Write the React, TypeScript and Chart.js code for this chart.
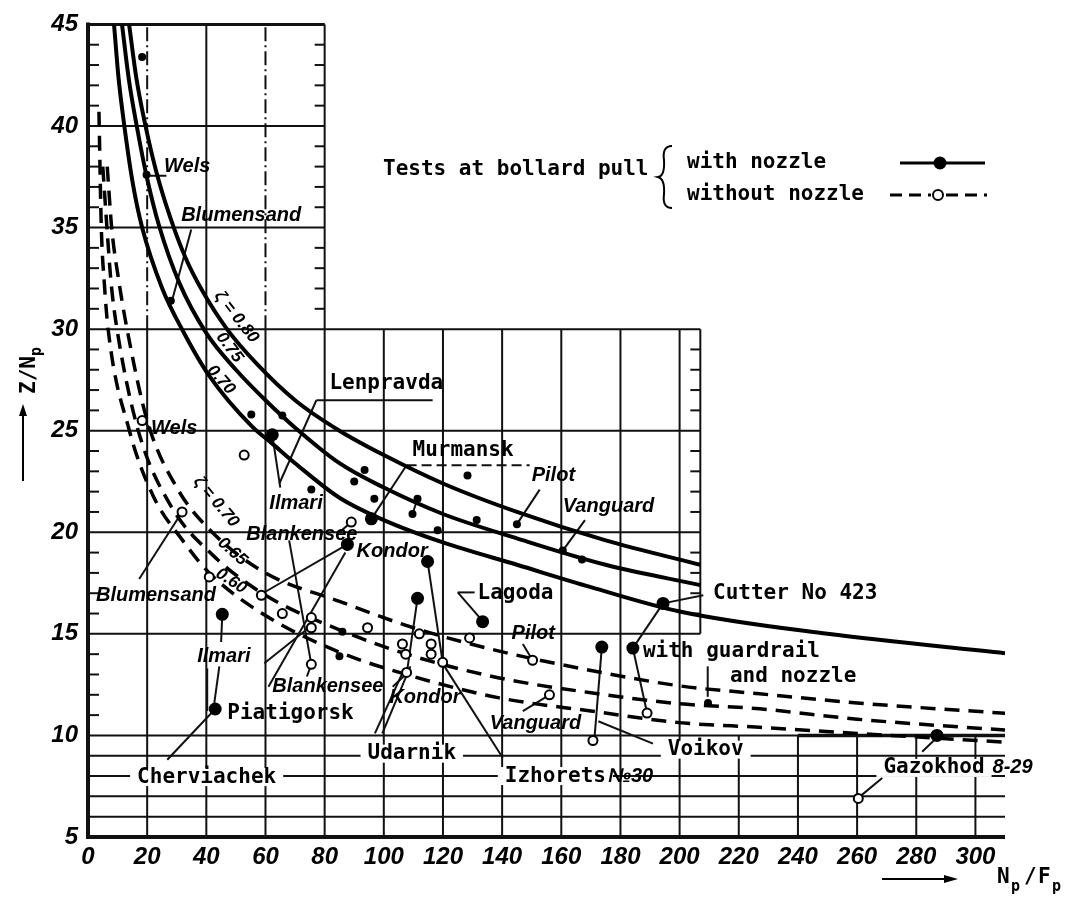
import React, { useEffect, useRef } from "react";
import { Chart, registerables } from "chart.js";

Chart.register(...registerables);

// ---------- axes ----------
const X_TICKS = [0, 20, 40, 60, 80, 100, 120, 140, 160, 180, 200, 220, 240, 260, 280, 300];
const Y_TICKS = [5, 10, 15, 20, 25, 30, 35, 40, 45];

// ---------- curves ----------
const SOLID_080_X = [13.9, 16.3, 19.3, 23, 27.8, 33, 38.6, 47, 57, 70, 85, 100, 120, 145, 175, 207];
const SOLID_080_Y = [45, 42.4, 40.1, 37.8, 35.5, 33.5, 31.9, 30.0, 28.3, 26.5, 25.0, 23.8, 22.4, 21.0, 19.6, 18.4];
const SOLID_075_X = [11.5, 13.8, 16.6, 20, 24, 30.8, 40, 50, 60, 70.4, 85, 100, 120, 145, 175, 207];
const SOLID_075_Y = [45, 42.3, 39.9, 37.4, 35.1, 32.3, 29.8, 28.0, 26.5, 25.1, 23.4, 22.2, 20.9, 19.7, 18.4, 17.4];
const SOLID_070_X = [8.8, 10.3, 12.2, 15, 18.3, 25.1, 32.5, 41, 55.5, 62, 70, 85, 100, 120, 145, 170, 200, 250, 310];
const SOLID_070_Y = [45, 42.4, 40.1, 37.3, 35, 32.0, 29.8, 27.7, 25.2, 24.4, 23.4, 21.7, 20.6, 19.5, 18.4, 17.3, 16.1, 15.0, 14.05];

const DASH_070_X = [6.5, 8, 10.5, 13.2, 20, 30, 42, 60, 85, 110, 139, 170, 200, 227, 260, 312];
const DASH_070_Y = [38, 35, 32.3, 30, 25.5, 22.2, 20.0, 18.0, 16.6, 15.3, 14.15, 13.2, 12.44, 12.05, 11.6, 11.07];
const DASH_065_X = [5, 6.4, 7.8, 9.8, 17, 28, 42, 60, 85, 110, 139, 170, 200, 227, 260, 312];
const DASH_065_Y = [38, 35, 32.3, 30, 25, 21.3, 18.9, 16.9, 15.2, 13.9, 12.83, 12.1, 11.56, 11.31, 10.8, 10.24];
const DASH_060_X = [3.7, 4.5, 5.5, 6.8, 14, 22, 32, 41, 60, 85, 110, 139, 170, 200, 227, 260, 312];
const DASH_060_Y = [40.7, 35, 32.3, 30, 25, 21.8, 19.6, 18.0, 15.9, 14.1, 12.9, 11.85, 11.2, 10.63, 10.4, 10.1, 9.65];

// ---------- test points ----------
const WITH_NOZZLE_BIG: [number, number][] = [
  [62.3, 24.8], [95.8, 20.66], [87.7, 19.4], [114.8, 18.56], [111.4, 16.75], [133.4, 15.6],
  [45.4, 15.96], [43.0, 11.3], [194.4, 16.5], [173.7, 14.35], [184.2, 14.3], [287.0, 10.0],
];
const WITH_NOZZLE_SMALL: [number, number][] = [
  [18.3, 43.4], [19.8, 37.6], [28.0, 31.4], [55.2, 25.8], [65.7, 25.75], [75.5, 22.1],
  [93.5, 23.06], [90.0, 22.5], [96.8, 21.65], [111.4, 21.65], [109.7, 20.9], [128.3, 22.8],
  [131.4, 20.6], [118.2, 20.1], [145.0, 20.4], [160.5, 19.1], [167.0, 18.66], [85.0, 13.9],
  [86.0, 15.1], [209.6, 11.6],
];
const WITHOUT_NOZZLE: [number, number][] = [
  [18.3, 25.5], [52.8, 23.8], [31.8, 21.0], [41.0, 17.8], [58.6, 16.9], [65.7, 16.0],
  [75.5, 15.8], [75.5, 15.3], [75.5, 13.5], [89.0, 20.5], [94.5, 15.3], [106.3, 14.5],
  [107.4, 14.0], [107.7, 13.1], [112.0, 15.0], [116.0, 14.5], [116.0, 14.0], [119.9, 13.6],
  [129.0, 14.8], [150.3, 13.7], [156.0, 12.0], [170.7, 9.75], [189.0, 11.1], [260.4, 6.9],
];

// ---------- annotations (data units) ----------
const TYPED_LABELS: { t: string; x: number; y: number; bg?: boolean }[] = [
  { t: "Lenpravda", x: 81.6, y: 27.3 },
  { t: "Murmansk", x: 109.7, y: 24.0 },
  { t: "Lagoda", x: 131.7, y: 17.0 },
  { t: "Cutter No 423", x: 211.3, y: 17.0 },
  { t: "with guardrail", x: 187.6, y: 14.15 },
  { t: "and nozzle", x: 217.0, y: 12.9 },
  { t: "Piatigorsk", x: 47.1, y: 11.1 },
  { t: "Udarnik", x: 94.5, y: 9.1, bg: true },
  { t: "Cherviachek", x: 16.6, y: 7.95, bg: true },
  { t: "Izhorets", x: 140.9, y: 8.0, bg: true },
  { t: "Voikov", x: 196.0, y: 9.3, bg: true },
  { t: "Gazokhod", x: 268.9, y: 8.4, bg: true },
];
const HAND_LABELS: { t: string; x: number; y: number }[] = [
  { t: "Wels", x: 25.7, y: 38.0 },
  { t: "Blumensand", x: 31.5, y: 35.6 },
  { t: "Wels", x: 21.3, y: 25.1 },
  { t: "Blumensand", x: 2.7, y: 16.9 },
  { t: "Ilmari", x: 61.3, y: 21.4 },
  { t: "Blankensee", x: 53.5, y: 19.9 },
  { t: "Kondor", x: 90.8, y: 19.05 },
  { t: "Ilmari", x: 36.9, y: 13.9 },
  { t: "Blankensee", x: 62.3, y: 12.4 },
  { t: "Kondor", x: 101.9, y: 11.85 },
  { t: "Pilot", x: 150.0, y: 22.8 },
  { t: "Vanguard", x: 160.5, y: 21.25 },
  { t: "Pilot", x: 143.2, y: 15.0 },
  { t: "Vanguard", x: 135.8, y: 10.6 },
  { t: "№30", x: 175.8, y: 8.0 },
  { t: "8-29", x: 305.8, y: 8.4 },
];
const ZETA_LABELS: { t: string; x: number; y: number; a: number }[] = [
  { t: "ζ = 0.80", x: 50.2, y: 30.6, a: 52 },
  { t: "0.75", x: 47.8, y: 29.1, a: 53 },
  { t: "0.70", x: 45.0, y: 27.5, a: 48 },
  { t: "ζ = 0.70", x: 43.3, y: 21.5, a: 50 },
  { t: "0.65", x: 48.8, y: 19.05, a: 42 },
  { t: "0.60", x: 48.4, y: 17.6, a: 33 },
];
const LEADERS: [number, number, number, number][] = [
  [19.6, 37.55, 26.5, 37.55], [34.9, 34.9, 28.4, 31.4], [18.3, 25.5, 21.3, 25.1],
  [17.3, 17.7, 31.8, 21.0], [77.2, 26.5, 116.5, 26.5], [77.2, 26.5, 64.7, 22.4],
  [62.3, 24.8, 65.0, 22.2], [107.7, 23.3, 95.8, 20.66], [111.4, 21.65, 109.7, 20.9],
  [87.7, 19.4, 57.9, 16.9], [87.0, 19.0, 61.0, 12.4], [85.0, 20.0, 89.0, 20.5],
  [68.0, 19.6, 75.5, 13.5], [45.4, 15.96, 45.0, 14.6], [44.4, 13.4, 42.7, 11.6],
  [40.3, 13.3, 40.3, 11.2], [59.6, 13.55, 75.5, 15.4], [75.5, 13.5, 74.0, 12.9],
  [26.8, 8.8, 43.0, 11.3], [97.0, 10.1, 107.0, 13.3], [99.5, 10.1, 109.0, 13.4],
  [111.4, 16.75, 108.0, 13.3], [103.0, 12.4, 107.4, 13.0], [114.8, 18.56, 119.9, 13.6],
  [140.2, 8.9, 120.5, 13.4], [125.0, 17.04, 130.7, 17.04], [125.0, 17.04, 132.4, 15.8],
  [152.7, 22.1, 145.0, 20.4], [168.0, 20.6, 160.5, 19.1], [147.0, 14.5, 150.3, 13.7],
  [147.0, 11.2, 156.0, 12.0], [173.7, 14.35, 171.3, 10.0], [191.0, 9.6, 172.5, 10.7],
  [194.4, 16.5, 208.0, 16.9], [184.2, 14.3, 194.4, 16.5], [184.2, 14.3, 189.0, 11.1],
  [261.0, 7.0, 268.5, 7.9], [282.0, 9.2, 287.0, 9.9], [209.5, 11.9, 209.5, 13.4],
];
const DASHED_LEADERS: [number, number, number, number][] = [[107.7, 23.3, 149.3, 23.3]];

// grid pieces of the printed paper: [y, x1, x2] and [x, y1, y2]
const GRID_H: [number, number, number][] = [
  [45, 0, 80], [40, 0, 80], [35, 0, 80], [30, 0, 207], [25, 0, 207], [20, 0, 207], [15, 0, 207],
  [10, 0, 310], [9, 0, 310], [8, 0, 310], [7, 0, 310], [6, 0, 310],
];
const GRID_V: [number, number, number][] = [
  [20, 5, 30], [40, 5, 45], [60, 5, 30], [80, 5, 45], [100, 5, 30], [120, 5, 30], [140, 5, 30],
  [160, 5, 30], [180, 5, 30], [200, 5, 30], [207, 15, 30], [220, 5, 10], [240, 5, 10],
  [260, 5, 10], [280, 5, 10], [300, 5, 10],
];
const GRID_DASHDOT: [number, number, number][] = [[20, 30, 45], [60, 30, 45]];
const GRID_HEAVY: [number, number, number][] = [[10, 240, 310]];

const TYPED_FONT = 'bold 21px "DejaVu Sans Mono"';
const HAND_FONT = 'italic bold 20px "Liberation Sans"';
const ZETA_FONT = 'italic bold 17px "Liberation Sans"';

function curve(xs: number[], ys: number[]) {
  return xs.map((x, i) => ({ x, y: ys[i] }));
}
function pts(a: [number, number][]) {
  return a.map(([x, y]) => ({ x, y }));
}

const paperPlugin = {
  id: "paper",
  beforeDatasetsDraw(chart: any) {
    const { ctx } = chart;
    const X = (v: number) => chart.scales.x.getPixelForValue(v);
    const Y = (v: number) => chart.scales.y.getPixelForValue(v);
    ctx.save();
    ctx.strokeStyle = "#111";
    ctx.lineCap = "butt";
    const seg = (x1: number, y1: number, x2: number, y2: number) => {
      ctx.beginPath();
      ctx.moveTo(x1, y1);
      ctx.lineTo(x2, y2);
      ctx.stroke();
    };
    ctx.lineWidth = 2;
    GRID_H.forEach(([y, a, b]) => seg(X(a), Y(y), X(b), Y(y)));
    GRID_V.forEach(([x, a, b]) => seg(X(x), Y(a), X(x), Y(b)));
    ctx.setLineDash([14, 4, 2, 4]);
    GRID_DASHDOT.forEach(([x, a, b]) => seg(X(x), Y(a), X(x), Y(b)));
    ctx.setLineDash([]);
    ctx.lineWidth = 3.5;
    GRID_HEAVY.forEach(([y, a, b]) => seg(X(a), Y(y), X(b), Y(y)));
    ctx.lineWidth = 2;
    // minor ticks
    for (let v = 11; v <= 44; v++) {
      if (v % 5 === 0) continue;
      seg(X(0), Y(v), X(0) + 11, Y(v));
      if (v > 30) seg(X(80), Y(v), X(80) - 10, Y(v));
      if (v > 15 && v < 30) seg(X(207), Y(v), X(207) - 10, Y(v));
    }
    // axes
    ctx.lineWidth = 4;
    seg(X(0), Y(45) - 2, X(0), Y(5) + 2);
    seg(X(0) - 2, Y(5), X(310), Y(5));
    ctx.lineWidth = 3;
    seg(X(0), Y(45), X(80), Y(45));
    // gaps under typed labels sitting on grid lines
    ctx.font = TYPED_FONT;
    ctx.fillStyle = "#fff";
    TYPED_LABELS.forEach((l) => {
      if (!l.bg) return;
      const w = ctx.measureText(l.t).width;
      ctx.fillRect(X(l.x) - 7, Y(l.y) - 9, w + 14, 18);
    });
    // leaders
    ctx.lineWidth = 2;
    LEADERS.forEach(([a, b, c, d]) => seg(X(a), Y(b), X(c), Y(d)));
    ctx.setLineDash([10, 5]);
    DASHED_LEADERS.forEach(([a, b, c, d]) => seg(X(a), Y(b), X(c), Y(d)));
    ctx.setLineDash([]);
    ctx.restore();
  },
  afterDatasetsDraw(chart: any) {
    const { ctx } = chart;
    const X = (v: number) => chart.scales.x.getPixelForValue(v);
    const Y = (v: number) => chart.scales.y.getPixelForValue(v);
    ctx.save();
    ctx.fillStyle = "#000";
    ctx.strokeStyle = "#000";
    ctx.textBaseline = "middle";
    ctx.textAlign = "left";
    ctx.font = TYPED_FONT;
    TYPED_LABELS.forEach((l) => ctx.fillText(l.t, X(l.x), Y(l.y)));
    ctx.font = HAND_FONT;
    HAND_LABELS.forEach((l) => ctx.fillText(l.t, X(l.x), Y(l.y)));
    ctx.font = ZETA_FONT;
    ctx.textAlign = "center";
    ZETA_LABELS.forEach((l) => {
      ctx.save();
      ctx.translate(X(l.x), Y(l.y));
      ctx.rotate((l.a * Math.PI) / 180);
      ctx.fillText(l.t, 0, 0);
      ctx.restore();
    });

    // legend
    ctx.textAlign = "left";
    ctx.font = TYPED_FONT;
    ctx.fillText("Tests at bollard pull", 383, 170);
    ctx.fillText("with nozzle", 687, 163);
    ctx.fillText("without nozzle", 687, 195);
    ctx.lineWidth = 2;
    ctx.beginPath();
    ctx.moveTo(672, 146);
    ctx.quadraticCurveTo(662, 146, 664, 160);
    ctx.quadraticCurveTo(665, 176, 658, 177);
    ctx.quadraticCurveTo(665, 179, 664, 194);
    ctx.quadraticCurveTo(662, 208, 672, 208);
    ctx.stroke();
    ctx.lineWidth = 3;
    ctx.beginPath();
    ctx.moveTo(900, 163);
    ctx.lineTo(985, 163);
    ctx.stroke();
    ctx.beginPath();
    ctx.arc(940, 163, 6.5, 0, Math.PI * 2);
    ctx.fill();
    ctx.setLineDash([12, 7]);
    ctx.beginPath();
    ctx.moveTo(890, 195);
    ctx.lineTo(931, 195);
    ctx.moveTo(946, 195);
    ctx.lineTo(987, 195);
    ctx.stroke();
    ctx.setLineDash([]);
    ctx.lineWidth = 2;
    ctx.beginPath();
    ctx.arc(938, 195, 5, 0, Math.PI * 2);
    ctx.stroke();

    // axis titles
    ctx.font = TYPED_FONT;
    ctx.save();
    ctx.translate(30, 372);
    ctx.rotate(-Math.PI / 2);
    ctx.textAlign = "left";
    ctx.fillText("Z/N", -22, 0);
    ctx.font = 'bold 15px "DejaVu Sans Mono"';
    ctx.fillText("p", 16, 7);
    ctx.restore();
    ctx.lineWidth = 2;
    ctx.beginPath();
    ctx.moveTo(23, 481);
    ctx.lineTo(23, 412);
    ctx.stroke();
    ctx.beginPath();
    ctx.moveTo(23, 404);
    ctx.lineTo(19, 416);
    ctx.lineTo(27, 416);
    ctx.closePath();
    ctx.fill();

    ctx.textAlign = "left";
    ctx.font = TYPED_FONT;
    ctx.fillText("N", 997, 878);
    ctx.fillText("/", 1024, 878);
    ctx.fillText("F", 1038, 878);
    ctx.font = 'bold 15px "DejaVu Sans Mono"';
    ctx.fillText("p", 1011, 887);
    ctx.fillText("p", 1052, 887);
    ctx.lineWidth = 2;
    ctx.beginPath();
    ctx.moveTo(882, 879);
    ctx.lineTo(948, 879);
    ctx.stroke();
    ctx.beginPath();
    ctx.moveTo(958, 879);
    ctx.lineTo(944, 875);
    ctx.lineTo(944, 883);
    ctx.closePath();
    ctx.fill();
    ctx.restore();
  },
};

export default function App() {
  const ref = useRef<HTMLCanvasElement | null>(null);
  useEffect(() => {
    document.body.style.margin = "0";
    const canvas = ref.current;
    if (!canvas) return;
    const solid = (xs: number[], ys: number[]) => ({
      type: "line" as const,
      data: curve(xs, ys),
      borderColor: "#000",
      borderWidth: 4,
      pointRadius: 0,
      cubicInterpolationMode: "monotone" as const,
      fill: false,
      order: 3,
    });
    const dashed = (xs: number[], ys: number[]) => ({
      ...solid(xs, ys),
      borderWidth: 3.5,
      borderDash: [15, 9],
    });
    const chart = new Chart(canvas, {
      type: "scatter",
      data: {
        datasets: [
          solid(SOLID_080_X, SOLID_080_Y),
          solid(SOLID_075_X, SOLID_075_Y),
          solid(SOLID_070_X, SOLID_070_Y),
          dashed(DASH_070_X, DASH_070_Y),
          dashed(DASH_065_X, DASH_065_Y),
          dashed(DASH_060_X, DASH_060_Y),
          {
            type: "scatter",
            data: pts(WITH_NOZZLE_BIG),
            pointRadius: 6.5,
            backgroundColor: "#000",
            borderColor: "#000",
            borderWidth: 0,
            order: 1,
          },
          {
            type: "scatter",
            data: pts(WITH_NOZZLE_SMALL),
            pointRadius: 4,
            backgroundColor: "#000",
            borderColor: "#000",
            borderWidth: 0,
            order: 1,
          },
          {
            type: "scatter",
            data: pts(WITHOUT_NOZZLE),
            pointRadius: 4.5,
            backgroundColor: "#fff",
            borderColor: "#000",
            borderWidth: 2,
            order: 1,
          },
        ] as any,
      },
      options: {
        responsive: false,
        animation: false,
        devicePixelRatio: 1,
        layout: { padding: { top: 20, right: 67, left: 0, bottom: 0 } },
        plugins: { legend: { display: false }, tooltip: { enabled: false } },
        scales: {
          x: {
            type: "linear",
            min: 0,
            max: 310,
            grid: { display: false, drawTicks: false },
            border: { display: false },
            afterFit: (s: any) => {
              s.height = 66;
            },
            afterBuildTicks: (s: any) => {
              s.ticks = X_TICKS.map((v) => ({ value: v }));
            },
            ticks: {
              padding: 6,
              color: "#000",
              maxRotation: 0,
              font: { family: "Liberation Sans", size: 24, style: "italic", weight: "bold" },
            },
          },
          y: {
            type: "linear",
            min: 5,
            max: 45,
            grid: { display: false, drawTicks: false },
            border: { display: false },
            afterFit: (s: any) => {
              s.width = 88;
            },
            afterBuildTicks: (s: any) => {
              s.ticks = Y_TICKS.map((v) => ({ value: v }));
            },
            ticks: {
              padding: 10,
              color: "#000",
              font: { family: "Liberation Sans", size: 24, style: "italic", weight: "bold" },
            },
          },
        },
      },
      plugins: [paperPlugin],
    });
    return () => chart.destroy();
  }, []);
  return (
    <div style={{ position: "absolute", left: 0, top: 0, width: 1072, height: 903, background: "#fff" }}>
      <canvas ref={ref} width={1072} height={903} />
    </div>
  );
}
